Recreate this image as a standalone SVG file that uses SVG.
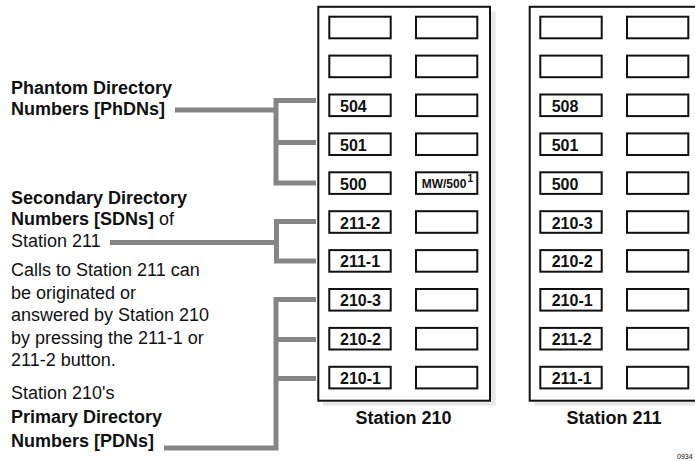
<svg xmlns="http://www.w3.org/2000/svg" width="695" height="461" viewBox="0 0 695 461">
<style>
text{font-family:"Liberation Sans",Arial,sans-serif;fill:#111}
.lbl{font-size:18px}
.b{font-weight:bold}
.btn{fill:#fff;stroke:#111;stroke-width:2}
.frame{fill:#fff;stroke:#111;stroke-width:2}
.shadow{fill:#e8e8e8}
.bt{font-size:16px;font-weight:bold}
.cap{font-size:18px;font-weight:bold;text-anchor:middle}
.conn{fill:none;stroke:#858585;stroke-width:5;stroke-linejoin:miter}
</style>
<rect width="695" height="461" fill="#fff"/>

<g id="labels">
<text class="lbl b" x="11" y="94">Phantom Directory</text>
<text class="lbl b" x="11" y="114.5">Numbers [PhDNs]</text>
<text class="lbl b" x="11" y="204">Secondary Directory</text>
<text class="lbl" x="11" y="225"><tspan class="b">Numbers [SDNs]</tspan> of</text>
<text class="lbl" x="11" y="247">Station 211</text>
<text class="lbl" x="11" y="276">Calls to Station 211 can</text>
<text class="lbl" x="11" y="298.5">be originated or</text>
<text class="lbl" x="11" y="321">answered by Station 210</text>
<text class="lbl" x="11" y="343.5">by pressing the 211-1 or</text>
<text class="lbl" x="11" y="366">211-2 button.</text>
<text class="lbl" x="11" y="399">Station 210's</text>
<text class="lbl b" x="11" y="423">Primary Directory</text>
<text class="lbl b" x="11" y="447">Numbers [PDNs]</text>
</g>

<g id="connectors">
<path class="conn" d="M316,100.5 H276 V183 H316 M276,142.5 H316 M175,110 H276"/>
<path class="conn" d="M316,221.5 H276.5 V261 H316 M110,242.5 H276.5"/>
<path class="conn" d="M316,299.5 H276 V448 H164 M276,339.5 H316 M276,378.5 H316"/>
</g>

<g id="station210">
<rect class="shadow" x="323" y="11.5" width="172.7" height="394.2"/>
<rect class="frame" x="318.3" y="6.8" width="171.7" height="393.9"/>
<g id="s210-l1"><rect class="btn" x="329.3" y="16.7" width="61.4" height="21.6"/></g>
<g id="s210-r1"><rect class="btn" x="416" y="16.7" width="61.3" height="21.6"/></g>
<g id="s210-l2"><rect class="btn" x="329.3" y="55.6" width="61.4" height="21.6"/></g>
<g id="s210-r2"><rect class="btn" x="416" y="55.6" width="61.3" height="21.6"/></g>
<g id="s210-l3"><rect class="btn" x="329.3" y="94.5" width="61.4" height="21.6"/><text class="bt" x="340" y="111.8">504</text></g>
<g id="s210-r3"><rect class="btn" x="416" y="94.5" width="61.3" height="21.6"/></g>
<g id="s210-l4"><rect class="btn" x="329.3" y="133.4" width="61.4" height="21.6"/><text class="bt" x="340" y="150.7">501</text></g>
<g id="s210-r4"><rect class="btn" x="416" y="133.4" width="61.3" height="21.6"/></g>
<g id="s210-l5"><rect class="btn" x="329.3" y="172.3" width="61.4" height="21.6"/><text class="bt" x="340" y="189.6">500</text></g>
<g id="s210-r5"><rect class="btn" x="416" y="172.3" width="61.3" height="21.6"/><text x="421.7" y="188.4" font-size="12" font-weight="bold">MW/500</text><text x="467.5" y="182" font-size="10" font-weight="bold">1</text></g>
<g id="s210-l6"><rect class="btn" x="329.3" y="211.2" width="61.4" height="21.6"/><text class="bt" x="340" y="228.5">211-2</text></g>
<g id="s210-r6"><rect class="btn" x="416" y="211.2" width="61.3" height="21.6"/></g>
<g id="s210-l7"><rect class="btn" x="329.3" y="250.1" width="61.4" height="21.6"/><text class="bt" x="340" y="267.4">211-1</text></g>
<g id="s210-r7"><rect class="btn" x="416" y="250.1" width="61.3" height="21.6"/></g>
<g id="s210-l8"><rect class="btn" x="329.3" y="289" width="61.4" height="21.6"/><text class="bt" x="340" y="306.3">210-3</text></g>
<g id="s210-r8"><rect class="btn" x="416" y="289" width="61.3" height="21.6"/></g>
<g id="s210-l9"><rect class="btn" x="329.3" y="327.9" width="61.4" height="21.6"/><text class="bt" x="340" y="345.2">210-2</text></g>
<g id="s210-r9"><rect class="btn" x="416" y="327.9" width="61.3" height="21.6"/></g>
<g id="s210-l10"><rect class="btn" x="329.3" y="366.8" width="61.4" height="21.6"/><text class="bt" x="340" y="384.1">210-1</text></g>
<g id="s210-r10"><rect class="btn" x="416" y="366.8" width="61.3" height="21.6"/></g>
<text class="cap" x="403.5" y="424">Station 210</text>
</g>

<g id="station211">
<rect class="shadow" x="534.4" y="11.5" width="172.7" height="394.2"/>
<rect class="frame" x="529.7" y="6.8" width="171.7" height="393.9"/>
<g id="s211-l1"><rect class="btn" x="540.3" y="16.7" width="61.4" height="21.6"/></g>
<g id="s211-r1"><rect class="btn" x="627" y="16.7" width="61.3" height="21.6"/></g>
<g id="s211-l2"><rect class="btn" x="540.3" y="55.6" width="61.4" height="21.6"/></g>
<g id="s211-r2"><rect class="btn" x="627" y="55.6" width="61.3" height="21.6"/></g>
<g id="s211-l3"><rect class="btn" x="540.3" y="94.5" width="61.4" height="21.6"/><text class="bt" x="551.7" y="111.8">508</text></g>
<g id="s211-r3"><rect class="btn" x="627" y="94.5" width="61.3" height="21.6"/></g>
<g id="s211-l4"><rect class="btn" x="540.3" y="133.4" width="61.4" height="21.6"/><text class="bt" x="551.7" y="150.7">501</text></g>
<g id="s211-r4"><rect class="btn" x="627" y="133.4" width="61.3" height="21.6"/></g>
<g id="s211-l5"><rect class="btn" x="540.3" y="172.3" width="61.4" height="21.6"/><text class="bt" x="551.7" y="189.6">500</text></g>
<g id="s211-r5"><rect class="btn" x="627" y="172.3" width="61.3" height="21.6"/></g>
<g id="s211-l6"><rect class="btn" x="540.3" y="211.2" width="61.4" height="21.6"/><text class="bt" x="551.7" y="228.5">210-3</text></g>
<g id="s211-r6"><rect class="btn" x="627" y="211.2" width="61.3" height="21.6"/></g>
<g id="s211-l7"><rect class="btn" x="540.3" y="250.1" width="61.4" height="21.6"/><text class="bt" x="551.7" y="267.4">210-2</text></g>
<g id="s211-r7"><rect class="btn" x="627" y="250.1" width="61.3" height="21.6"/></g>
<g id="s211-l8"><rect class="btn" x="540.3" y="289" width="61.4" height="21.6"/><text class="bt" x="551.7" y="306.3">210-1</text></g>
<g id="s211-r8"><rect class="btn" x="627" y="289" width="61.3" height="21.6"/></g>
<g id="s211-l9"><rect class="btn" x="540.3" y="327.9" width="61.4" height="21.6"/><text class="bt" x="551.7" y="345.2">211-2</text></g>
<g id="s211-r9"><rect class="btn" x="627" y="327.9" width="61.3" height="21.6"/></g>
<g id="s211-l10"><rect class="btn" x="540.3" y="366.8" width="61.4" height="21.6"/><text class="bt" x="551.7" y="384.1">211-1</text></g>
<g id="s211-r10"><rect class="btn" x="627" y="366.8" width="61.3" height="21.6"/></g>
<text class="cap" x="614" y="424">Station 211</text>
</g>

<text x="677" y="459" font-size="7" fill="#444">0934</text>
</svg>
